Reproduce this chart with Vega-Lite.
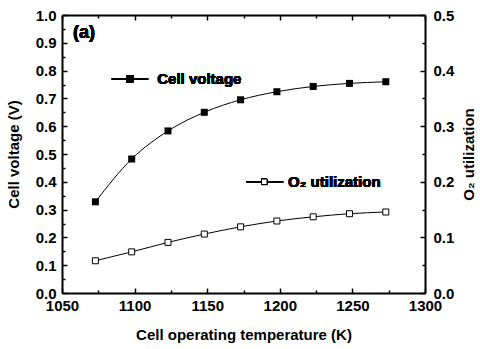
{
  "$schema": "https://vega.github.io/schema/vega-lite/v6.json",
  "autosize": "none",
  "width": 363,
  "height": 278,
  "padding": {"left": 62, "top": 15, "right": 55, "bottom": 56},
  "background": "white",
  "config": {
    "view": {"stroke": null},
    "font": "Liberation Sans",
    "axis": {
      "grid": false,
      "labelFont": "Liberation Sans",
      "labelFontWeight": "bold",
      "labelFontSize": 15,
      "labelColor": "black",
      "titleFont": "Liberation Sans",
      "titleFontWeight": "bold",
      "titleFontSize": 15,
      "titleColor": "black",
      "domainColor": "black",
      "domainWidth": 2,
      "tickColor": "black",
      "tickWidth": 1.5
    }
  },
  "data": {
    "values": [
      {"T": 1073, "V": 0.328, "U": 0.058},
      {"T": 1098, "V": 0.482, "U": 0.074},
      {"T": 1123, "V": 0.583, "U": 0.091},
      {"T": 1148, "V": 0.650, "U": 0.106},
      {"T": 1173, "V": 0.695, "U": 0.119},
      {"T": 1198, "V": 0.724, "U": 0.1295},
      {"T": 1223, "V": 0.743, "U": 0.137},
      {"T": 1248, "V": 0.754, "U": 0.1426},
      {"T": 1273, "V": 0.760, "U": 0.1457}
    ]
  },
  "layer": [
    {
      "mark": {"type": "line", "interpolate": "monotone", "color": "black", "strokeWidth": 1},
      "encoding": {
        "x": {"field": "T", "type": "quantitative", "scale": {"domain": [1050, 1300], "nice": false},
          "axis": {"orient": "bottom", "title": "Cell operating temperature (K)", "format": "d", "values": [1050, 1100, 1150, 1200, 1250, 1300], "tickSize": -5, "labelPadding": 10, "titlePadding": 14, "labelFlush": false, "labelFontWeight": "bold"}},
        "y": {"field": "V", "type": "quantitative", "scale": {"domain": [0, 1], "nice": false},
          "axis": {"orient": "left", "title": "Cell voltage (V)", "values": [0, 0.1, 0.2, 0.3, 0.4, 0.5, 0.6, 0.7, 0.8, 0.9, 1.0], "format": ".1f", "tickSize": -5, "labelPadding": 11, "titlePadding": 14, "labelFlush": false, "labelFontWeight": "bold"}}
      }
    },
    {
      "mark": {"type": "square", "filled": true, "color": "black", "size": 49, "opacity": 1},
      "encoding": {
        "x": {"field": "T", "type": "quantitative", "scale": {"domain": [1050, 1300], "nice": false}, "axis": null},
        "y": {"field": "V", "type": "quantitative", "scale": {"domain": [0, 1], "nice": false}, "axis": null}
      }
    },
    {
      "mark": {"type": "line", "interpolate": "monotone", "color": "black", "strokeWidth": 1},
      "encoding": {
        "x": {"field": "T", "type": "quantitative", "scale": {"domain": [1050, 1300], "nice": false}, "axis": null},
        "y": {"field": "U", "type": "quantitative", "scale": {"domain": [0, 0.5], "nice": false},
          "axis": {"orient": "right", "title": "O₂ utilization", "titleAngle": 270, "titleBaseline": "top", "values": [0, 0.1, 0.2, 0.3, 0.4, 0.5], "format": ".1f", "tickSize": -5, "labelPadding": 13, "titlePadding": 8, "labelFlush": false, "labelFontWeight": "bold"}}
      }
    },
    {
      "mark": {"type": "square", "filled": true, "fill": "white", "stroke": "black", "strokeWidth": 1, "size": 36, "opacity": 1},
      "encoding": {
        "x": {"field": "T", "type": "quantitative", "scale": {"domain": [1050, 1300], "nice": false}, "axis": null},
        "y": {"field": "U", "type": "quantitative", "scale": {"domain": [0, 0.5], "nice": false}, "axis": null}
      }
    },
    {
      "mark": {"type": "point", "opacity": 0},
      "encoding": {
        "x": {"field": "T", "type": "quantitative", "scale": {"domain": [1050, 1300], "nice": false},
          "axis": {"orient": "top", "title": null, "labels": false, "values": [1050, 1100, 1150, 1200, 1250, 1300], "tickSize": -5}},
        "y": {"field": "V", "type": "quantitative", "scale": {"domain": [0, 1], "nice": false},
          "axis": {"orient": "left", "title": null, "labels": false, "domain": false, "values": [0.05, 0.15, 0.25, 0.35, 0.45, 0.55, 0.65, 0.75, 0.85, 0.95], "tickSize": -3}}
      }
    },
    {
      "mark": {"type": "point", "opacity": 0},
      "encoding": {
        "x": {"field": "T", "type": "quantitative", "scale": {"domain": [1050, 1300], "nice": false},
          "axis": {"orient": "bottom", "title": null, "labels": false, "domain": false, "values": [1075, 1125, 1175, 1225, 1275], "tickSize": -3}},
        "y": {"field": "U", "type": "quantitative", "scale": {"domain": [0, 0.5], "nice": false},
          "axis": {"orient": "right", "title": null, "labels": false, "domain": false, "values": [0.05, 0.15, 0.25, 0.35, 0.45], "tickSize": -3}}
      }
    },
    {
      "mark": {"type": "point", "opacity": 0},
      "encoding": {
        "x": {"field": "T", "type": "quantitative", "scale": {"domain": [1050, 1300], "nice": false},
          "axis": {"orient": "top", "title": null, "labels": false, "domain": false, "values": [1075, 1125, 1175, 1225, 1275], "tickSize": -3}},
        "y": {"field": "V", "type": "quantitative", "scale": {"domain": [0, 1], "nice": false}, "axis": null}
      }
    },
    {
      "mark": {"type": "rule", "color": "black", "strokeWidth": 1},
      "encoding": {
        "x": {"datum": 1084.2, "type": "quantitative", "scale": {"domain": [1050, 1300], "nice": false}, "axis": null},
        "x2": {"datum": 1109.4},
        "y": {"datum": 0.77, "type": "quantitative", "scale": {"domain": [0, 1], "nice": false}, "axis": null}
      }
    },
    {
      "mark": {"type": "square", "filled": true, "color": "black", "size": 49, "opacity": 1},
      "encoding": {
        "x": {"datum": 1096.8, "type": "quantitative", "scale": {"domain": [1050, 1300], "nice": false}, "axis": null},
        "y": {"datum": 0.77, "type": "quantitative", "scale": {"domain": [0, 1], "nice": false}, "axis": null}
      }
    },
    {
      "mark": {"type": "text", "align": "left", "baseline": "middle", "font": "Liberation Sans", "fontWeight": "bold", "fontSize": 15, "color": "black"},
      "encoding": {
        "x": {"datum": 1115.6, "type": "quantitative", "scale": {"domain": [1050, 1300], "nice": false}, "axis": null},
        "y": {"datum": 0.77, "type": "quantitative", "scale": {"domain": [0, 1], "nice": false}, "axis": null},
        "text": {"value": "Cell voltage"}
      }
    },
    {
      "mark": {"type": "rule", "color": "black", "strokeWidth": 1},
      "encoding": {
        "x": {"datum": 1177, "type": "quantitative", "scale": {"domain": [1050, 1300], "nice": false}, "axis": null},
        "x2": {"datum": 1202.4},
        "y": {"datum": 0.40, "type": "quantitative", "scale": {"domain": [0, 1], "nice": false}, "axis": null}
      }
    },
    {
      "mark": {"type": "square", "filled": true, "fill": "white", "stroke": "black", "strokeWidth": 1, "size": 30, "opacity": 1},
      "encoding": {
        "x": {"datum": 1189.3, "type": "quantitative", "scale": {"domain": [1050, 1300], "nice": false}, "axis": null},
        "y": {"datum": 0.40, "type": "quantitative", "scale": {"domain": [0, 1], "nice": false}, "axis": null}
      }
    },
    {
      "mark": {"type": "text", "align": "left", "baseline": "middle", "font": "Liberation Sans", "fontWeight": "bold", "fontSize": 15, "color": "black"},
      "encoding": {
        "x": {"datum": 1205.7, "type": "quantitative", "scale": {"domain": [1050, 1300], "nice": false}, "axis": null},
        "y": {"datum": 0.40, "type": "quantitative", "scale": {"domain": [0, 1], "nice": false}, "axis": null},
        "text": {"value": "O₂ utilization"}
      }
    },
    {
      "mark": {"type": "text", "align": "left", "baseline": "middle", "font": "Liberation Sans", "fontWeight": "bold", "fontSize": 18, "color": "black"},
      "encoding": {
        "x": {"datum": 1057.6, "type": "quantitative", "scale": {"domain": [1050, 1300], "nice": false}, "axis": null},
        "y": {"datum": 0.935, "type": "quantitative", "scale": {"domain": [0, 1], "nice": false}, "axis": null},
        "text": {"value": "(a)"}
      }
    }
  ],
  "resolve": {
    "scale": {"y": "independent"},
    "axis": {"x": "independent", "y": "independent"}
  }
}
